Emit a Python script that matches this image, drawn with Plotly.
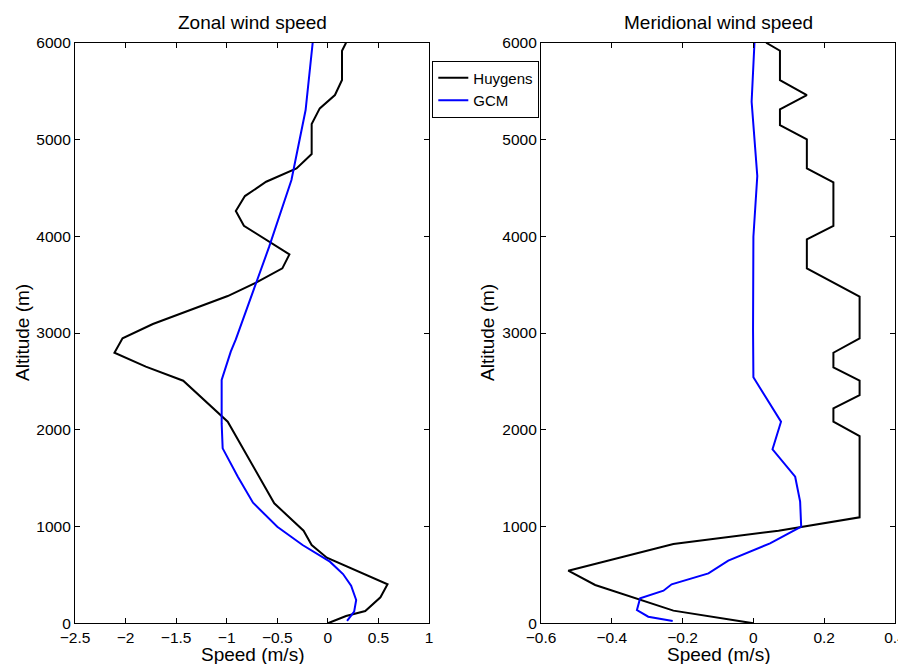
import plotly.graph_objects as go

# ---- Data ----
zonal_huy_alt = [0, 75, 127, 269, 403, 678, 809, 957, 1240, 2083, 2507, 2652, 2796, 2945, 3093,
                 3382, 3520, 3668, 3812, 4108, 4260, 4415, 4563, 4701, 4849, 5159, 5321, 5459,
                 5614, 5917, 6000]
zonal_huy_speed = [0, 0.18, 0.37, 0.52, 0.59, -0.01, -0.16, -0.24, -0.53, -0.99, -1.43, -1.80,
                   -2.11, -2.03, -1.73, -0.99, -0.71, -0.45, -0.38, -0.83, -0.91, -0.82, -0.61,
                   -0.31, -0.16, -0.16, -0.08, 0.07, 0.14, 0.14, 0.18]

zonal_gcm_alt = [24, 120, 241, 389, 509, 637, 809, 998, 1246, 1515, 1808, 2066, 2514, 2807,
                 2934, 3892, 4581, 5304, 6000]
zonal_gcm_speed = [0.19, 0.26, 0.28, 0.23, 0.15, 0.02, -0.25, -0.50, -0.74, -0.89, -1.04, -1.05,
                   -1.05, -0.96, -0.91, -0.58, -0.36, -0.22, -0.15]

merid_huy_alt = [0, 131, 396, 544, 819, 957, 1095, 1935, 2083, 2221, 2359, 2507, 2645, 2796,
                 2945, 3375, 3668, 3968, 4108, 4557, 4701, 5001, 5149, 5311, 5459, 5614, 5917,
                 6000]
merid_huy_speed = [0, -0.226, -0.447, -0.523, -0.226, 0.071, 0.30, 0.30, 0.226, 0.226, 0.30,
                   0.30, 0.226, 0.226, 0.30, 0.30, 0.151, 0.151, 0.226, 0.226, 0.151, 0.151,
                   0.075, 0.075, 0.151, 0.075, 0.075, 0.036]

merid_gcm_alt = [24, 68, 137, 258, 337, 403, 516, 647, 826, 998, 1257, 1515, 1798, 2083, 2542,
                 3031, 3995, 4622, 5390, 6000]
merid_gcm_speed = [-0.228, -0.297, -0.329, -0.32, -0.254, -0.231, -0.127, -0.071, 0.047, 0.135,
                   0.132, 0.118, 0.054, 0.078, 0.0, -0.001, 0.0, 0.011, -0.005, 0.003]

panel_titles = ["Zonal wind speed", "Meridional wind speed"]
series_names = ["Huygens", "GCM"]
x_label = "Speed (m/s)"
y_label = "Altitude (m)"

# The page body has an 8px default margin: lay out in window pixels, shifted.
OFF = 8
W, H = 906, 664
FONT = "Liberation Sans, Arial, Helvetica, sans-serif"

def px(xp):
    return (xp - OFF) / W

def py(yp):
    return 1 - (yp - OFF) / H

LW = 2
fig = go.Figure()
fig.add_trace(go.Scatter(x=zonal_huy_speed, y=zonal_huy_alt, mode="lines", name=series_names[0],
                         line=dict(color="black", width=LW), xaxis="x", yaxis="y"))
fig.add_trace(go.Scatter(x=zonal_gcm_speed, y=zonal_gcm_alt, mode="lines", name=series_names[1],
                         line=dict(color="#0000ff", width=LW), xaxis="x", yaxis="y"))
fig.add_trace(go.Scatter(x=merid_huy_speed, y=merid_huy_alt, mode="lines", showlegend=False,
                         line=dict(color="black", width=LW), xaxis="x2", yaxis="y2"))
fig.add_trace(go.Scatter(x=merid_gcm_speed, y=merid_gcm_alt, mode="lines", showlegend=False,
                         line=dict(color="#0000ff", width=LW), xaxis="x2", yaxis="y2"))

axis_common = dict(showline=True, linecolor="black", linewidth=1.2, mirror="ticks",
                   ticks="inside", ticklen=5, tickcolor="black", tickwidth=1, automargin=False,
                   ticklabeloverflow="allow",
                   showgrid=False, zeroline=False, tickfont=dict(size=15.5, color="black"))

ydom = [py(623.3), py(42.7)]
fig.update_layout(
    width=W, height=H,
    margin=dict(l=0, r=0, t=0, b=0, pad=0, autoexpand=False),
    paper_bgcolor="white", plot_bgcolor="white",
    font=dict(family=FONT, color="black"),
    xaxis=dict(domain=[px(75), px(429)], range=[-2.5, 1], dtick=0.5, anchor="y", **axis_common),
    yaxis=dict(domain=ydom, range=[0, 6000], dtick=1000, anchor="x", **axis_common),
    xaxis2=dict(domain=[px(541), px(895)], range=[-0.6, 0.4], dtick=0.2, anchor="y2", **axis_common),
    yaxis2=dict(domain=ydom, range=[0, 6000], dtick=1000, anchor="x2", **axis_common),
    legend=dict(x=px(432.3), y=py(60.5), xanchor="left", yanchor="top",
                bordercolor="black", borderwidth=1, bgcolor="white",
                font=dict(size=15, color="black"), tracegroupgap=0),
    showlegend=True,
)

ann = []
for title, cx in zip(panel_titles, [252, 718]):
    ann.append(dict(text=title, x=px(cx), y=py(22), xref="paper", yref="paper",
                    xanchor="center", yanchor="middle", showarrow=False,
                    font=dict(size=19, color="black")))
    ann.append(dict(text=x_label, x=px(cx), y=py(654), xref="paper", yref="paper",
                    xanchor="center", yanchor="middle", showarrow=False,
                    font=dict(size=19, color="black")))
for cx in [22, 487]:
    ann.append(dict(text=y_label, x=px(cx), y=py(333), xref="paper", yref="paper",
                    xanchor="center", yanchor="middle", showarrow=False, textangle=-90,
                    font=dict(size=19, color="black")))
fig.update_layout(annotations=ann)

fig.write_html("out.html")
